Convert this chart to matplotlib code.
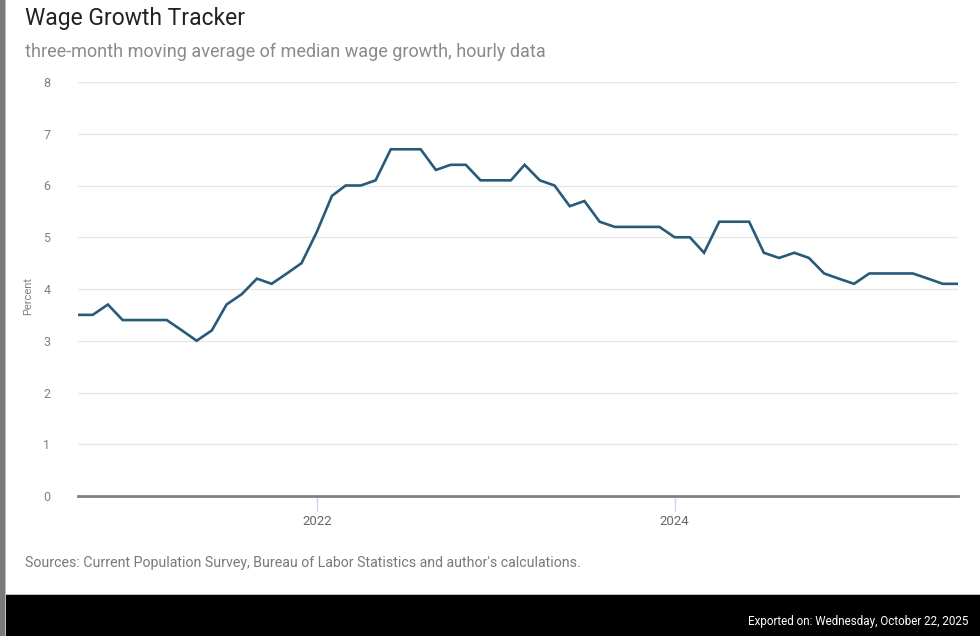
import matplotlib
matplotlib.use("Agg")
import matplotlib.pyplot as plt
import pandas as pd
from matplotlib.patches import Rectangle

start_month = "2020-09-01"
values = [
    3.5, 3.5, 3.7, 3.4,                                          # 2020 Sep-Dec
    3.4, 3.4, 3.4, 3.2, 3.0, 3.2, 3.7, 3.9, 4.2, 4.1, 4.3, 4.5,  # 2021
    5.1, 5.8, 6.0, 6.0, 6.1, 6.7, 6.7, 6.7, 6.3, 6.4, 6.4, 6.1,  # 2022
    6.1, 6.1, 6.4, 6.1, 6.0, 5.6, 5.7, 5.3, 5.2, 5.2, 5.2, 5.2,  # 2023
    5.0, 5.0, 4.7, 5.3, 5.3, 5.3, 4.7, 4.6, 4.7, 4.6, 4.3, 4.2,  # 2024
    4.1, 4.3, 4.3, 4.3, 4.3, 4.2, 4.1, 4.1,                      # 2025 Jan-Aug
]
dates = pd.date_range(start_month, periods=len(values), freq="MS")
y_ticks = [0, 1, 2, 3, 4, 5, 6, 7, 8]
x_tick_dates = ["2022-01-01", "2024-01-01"]
x_tick_labels = ["2022", "2024"]

title = "Wage Growth Tracker"
subtitle = "three-month moving average of median wage growth, hourly data"
source = "Sources: Current Population Survey, Bureau of Labor Statistics and author's calculations."
exported = "Exported on: Wednesday, October 22, 2025"

plt.rcParams["font.family"] = ["Roboto", "DejaVu Sans"]

W, H = 980, 636
fig = plt.figure(figsize=(W / 100, H / 100), dpi=100)
fig.patch.set_facecolor("white")

# frame decorations
fig.patches.append(Rectangle((6 / W, 0), 1 - 6 / W, 41 / H, transform=fig.transFigure,
                             facecolor="black", edgecolor="none", zorder=0))
fig.patches.append(Rectangle((6 / W, 41 / H), 1 - 6 / W, 1.5 / H, transform=fig.transFigure,
                             facecolor="#bdbdbd", edgecolor="none", zorder=0))
fig.patches.append(Rectangle((0, 0), 5 / W, 1, transform=fig.transFigure,
                             facecolor="#7a7a7a", edgecolor="none", zorder=0))
fig.patches.append(Rectangle((5 / W, 0), 1 / W, 1, transform=fig.transFigure,
                             facecolor="#bdbdbd", edgecolor="none", zorder=0))

ax = fig.add_axes([78 / W, (H - 496) / H, (958 - 78) / W, (496 - 82) / H])
ax.plot(dates, values, color="#285a7a", lw=1.9, solid_joinstyle="miter", zorder=3)

ax.set_ylim(0, 8)
ax.set_xlim(dates[0], dates[-1])
ax.set_yticks(y_ticks)
ax.set_yticklabels([str(t) for t in y_ticks])
ax.yaxis.grid(True, color="#e6e6e6", lw=1)
ax.set_axisbelow(True)
ax.tick_params(axis="y", length=0, pad=20, labelsize=9, labelcolor="#808080")

ax.set_xticks([pd.Timestamp(d) for d in x_tick_dates])
ax.set_xticklabels(x_tick_labels)
ax.tick_params(axis="x", length=11, width=1, color="#ccd6eb", pad=3,
               labelsize=9.5, labelcolor="#666666")

for s in ["top", "right", "left"]:
    ax.spines[s].set_visible(False)
ax.spines["bottom"].set_color("#808080")
ax.spines["bottom"].set_linewidth(2)
ax.spines["bottom"].set_zorder(4)

ax.set_ylabel("Percent", fontsize=8, color="#808080")
ax.yaxis.set_label_coords(-45 / (958 - 78), (496 - 296) / (496 - 82))

fig.text(25 / W, 1 - 18 / H, title, fontsize=16.5, color="#222222", va="center", ha="left")
fig.text(25 / W, 1 - 52 / H, subtitle, fontsize=13, color="#8a8a8a", va="center", ha="left")
fig.text(25 / W, 1 - 563 / H, source, fontsize=10.2, color="#7d7872", va="center", ha="left")
fig.text(968 / W, 1 - 621 / H, exported, fontsize=8.4, color="white", va="center", ha="right")

fig.savefig("out.png", dpi=100, facecolor="white")
